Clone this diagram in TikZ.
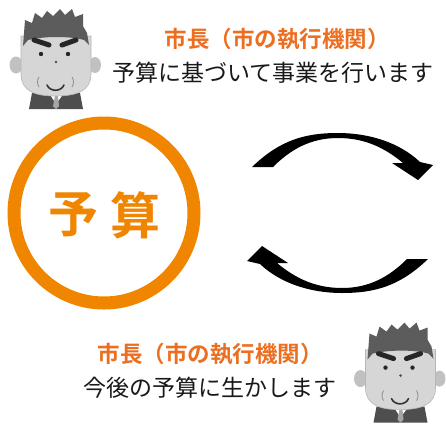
\documentclass[tikz,border=0pt]{standalone}
\usepackage{fontspec}
\newfontfamily\jp{Noto Sans CJK JP}[BoldFont={Noto Sans CJK JP Bold}]
\definecolor{headorange}{RGB}{236,110,32}
\definecolor{ringorange}{RGB}{240,134,0}
\definecolor{hairgray}{RGB}{92,92,92}
\definecolor{skingray}{RGB}{214,214,214}
\definecolor{suitgray}{RGB}{78,78,78}
\begin{document}
\begin{tikzpicture}[x=1pt,y=-1pt,
  head/.style={font=\jp\bfseries\fontsize{22.5}{22.5}\selectfont, text=headorange, inner sep=0pt},
  body/.style={font=\jp\fontsize{23}{23}\selectfont, text=black!90, inner sep=0pt},
  budget/.style={font=\jp\bfseries\fontsize{50}{50}\selectfont, text=ringorange, inner sep=0pt},
  cyclearrow/.style={fill=black, draw=none},
  person/.pic={
    % suit and shirt
    \fill[suitgray] (32,93) -- (80,93) -- (83,109) -- (29,109) -- cycle;
    \fill[white] (49,93) -- (64,93) -- (56,104) -- cycle;
    \fill[gray!70] (55,96) -- (58,96) -- (59,106) -- (56,109) -- (53,106) -- cycle;
    % ears
    \fill[skingray!90!black] (16,65) ellipse (6.5 and 8.5);
    \fill[skingray!90!black] (95,65) ellipse (6 and 8);
    % face
    \fill[skingray, draw=skingray!85!black, line width=0.6pt]
      (21,36) -- (21,74) .. controls (21,91) and (35,96) .. (55,96)
      .. controls (77,96) and (91,91) .. (91,74) -- (91,36) -- cycle;
    % hair
    \fill[hairgray] (23,46) -- (25,20) -- (32,23) -- (35,13) -- (42,18) -- (47,11)
      -- (53,16) -- (60,9) -- (65,15) -- (72,9) -- (75,17) -- (83,14)
      -- (83,26) -- (87,33) -- (89,45) -- (84,40) .. controls (70,36) and (45,36) .. (28,40) -- cycle;
    % eyebrows
    \draw[black!85, line width=5pt, line cap=round] (34,40) -- (49,45);
    \draw[black!85, line width=5pt, line cap=round] (62,45) -- (76,40);
    % eyes and nose
    \fill[black!85] (41,54) circle (2.2);
    \fill[black!85] (68,54) circle (2.2);
    \fill[black!70] (56,62) circle (1.4);
    % wrinkles and mouth
    \draw[black!45, line width=0.8pt] (39,77) .. controls (37,80) and (37,84) .. (39,87);
    \draw[black!45, line width=0.8pt] (72,77) .. controls (74,80) and (74,84) .. (72,87);
    \draw[black!80, line width=1.6pt, line cap=round] (47,85) .. controls (50,92) and (61,92) .. (64,85);
  }]
\useasboundingbox (0,0) rectangle (446,423);
\fill[white] (0,0) rectangle (446,423);

% people
\pic (mayorA) at (0,0) {person};
\begin{scope}[shift={(344.5,313.6)}, scale=0.94]
  \pic (mayorB) at (0,0) {person};
\end{scope}

% budget ring
\draw[ringorange, line width=13pt] (104,213) circle (90);
\node[budget] (yo) at (73,215) {予};
\node[budget] (san) at (135,215) {算};

% texts
\node[head] (titleTop) at (277,39) {市長（市の執行機関）};
\node[body] (lineTop) at (273,73) {予算に基づいて事業を行います};
\node[head] (titleBottom) at (210,354) {市長（市の執行機関）};
\node[body] (lineBottom) at (210,388) {今後の予算に生かします};

% cycle arrows
\fill[cyclearrow] (252,167) .. controls (280,140) and (305,133) .. (338,133)
  .. controls (370,133) and (400,143) .. (420,162)
  -- (433,165) -- (418,180) -- (392,163) -- (403,163)
  .. controls (385,148) and (365,138) .. (338,138)
  .. controls (310,138) and (290,150) .. (273,167) -- cycle;
\begin{scope}[rotate around={180:(340,213)}]
\fill[cyclearrow] (252,167) .. controls (280,140) and (305,133) .. (338,133)
  .. controls (370,133) and (400,143) .. (420,162)
  -- (433,165) -- (418,180) -- (392,163) -- (403,163)
  .. controls (385,148) and (365,138) .. (338,138)
  .. controls (310,138) and (290,150) .. (273,167) -- cycle;
\end{scope}
\end{tikzpicture}
\end{document}
